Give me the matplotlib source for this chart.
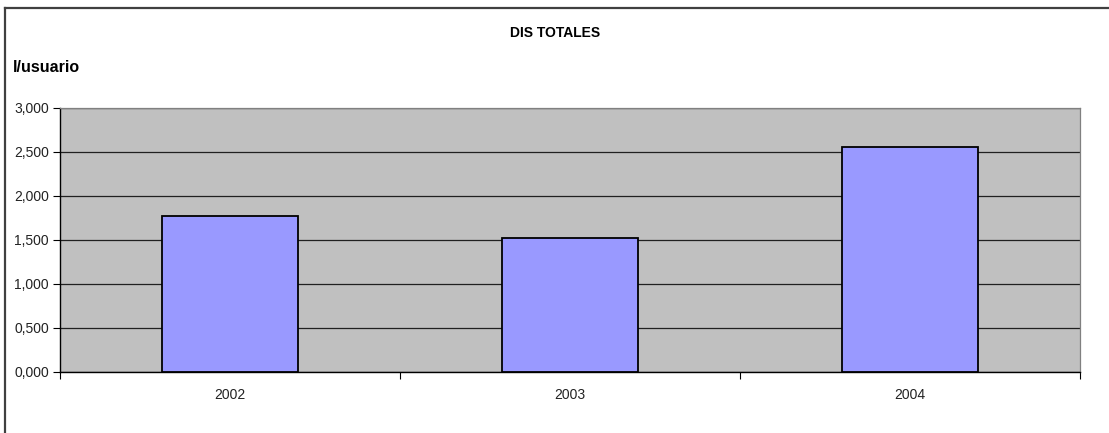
import matplotlib
matplotlib.use("Agg")
import matplotlib.pyplot as plt
from matplotlib.ticker import FuncFormatter, FixedLocator
from matplotlib.lines import Line2D

categories = ["2002", "2003", "2004"]
values = [1.773, 1.516, 2.550]
title = "DIS TOTALES"
ylabel = "l/usuario"
yticks = [0.0, 0.5, 1.0, 1.5, 2.0, 2.5, 3.0]

plt.rcParams['font.family'] = ['Liberation Sans', 'DejaVu Sans']

fig = plt.figure(figsize=(11.09, 4.33), dpi=100)
W, H = 1109, 433
ax = fig.add_axes([60 / W, 1 - 371.7 / H, 1020 / W, 264.2 / H])
ax.set_facecolor('#C0C0C0')

x = list(range(len(categories)))
ax.bar(x, values, width=0.4, color='#9999FF', edgecolor='black', linewidth=1.3, zorder=3)

ax.set_xlim(-0.5, len(categories) - 0.5)
ax.set_ylim(0, 3.0)
ax.yaxis.set_major_locator(FixedLocator(yticks))
ax.yaxis.set_major_formatter(FuncFormatter(lambda v, p: f"{v:.3f}".replace('.', ',')))
ax.grid(axis='y', color='#202020', linewidth=0.9, zorder=1)
ax.set_axisbelow(True)

# category boundary ticks and centered labels
ax.set_xticks([i - 0.5 for i in range(len(categories) + 1)])
ax.set_xticklabels([])
ax.set_xticks(x, minor=True)
ax.set_xticklabels(categories, minor=True)
ax.tick_params(axis='x', which='major', length=5, width=0.8, color='black', direction='out')
ax.tick_params(axis='x', which='minor', length=0, pad=12, labelsize=10, labelcolor='#222222')
ax.tick_params(axis='y', length=5, width=0.8, color='black', direction='out', labelsize=10,
               pad=3, labelcolor='#222222')

for s in ['top', 'right']:
    ax.spines[s].set_color('#808080')
    ax.spines[s].set_linewidth(0.9)
for s in ['left', 'bottom']:
    ax.spines[s].set_color('black')
    ax.spines[s].set_linewidth(1.0)

fig.text(555 / W, 1 - 33 / H, title, ha='center', va='center', fontsize=10, fontweight='bold')
fig.text(13 / W, 1 - 67 / H, ylabel, ha='left', va='center', fontsize=11.5, fontweight='bold')

# outer chart border (top and left visible)
fig.add_artist(Line2D([4.5 / W, 1.0], [1 - 8 / H, 1 - 8 / H], transform=fig.transFigure,
                      color='#404040', linewidth=1.6))
fig.add_artist(Line2D([4.5 / W, 4.5 / W], [1 - 8 / H, 0.0], transform=fig.transFigure,
                      color='#404040', linewidth=1.6))

fig.savefig("out.png", dpi=100)
